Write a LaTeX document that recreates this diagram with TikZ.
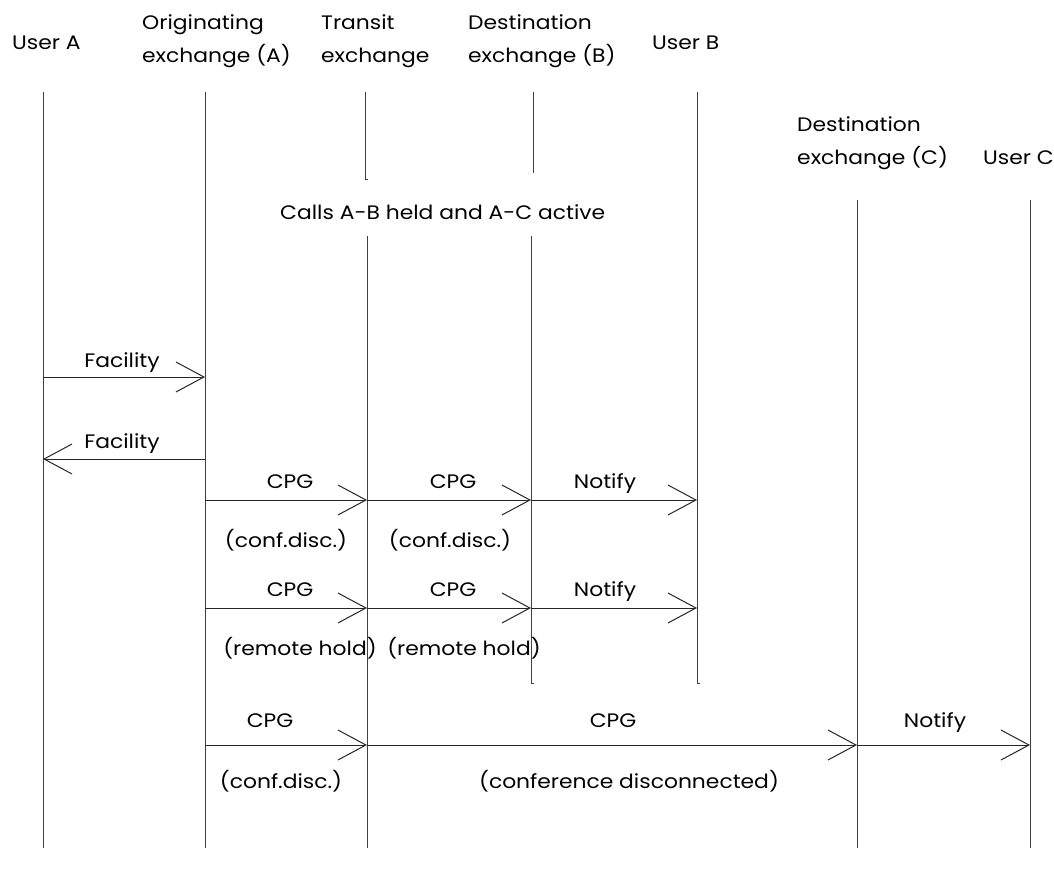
\documentclass[tikz,border=0pt]{standalone}
\usepackage{fontspec}
\setmainfont{Poppins}[FakeStretch=1.12]
\usetikzlibrary{arrows.meta}
\begin{document}
\begin{tikzpicture}[x=1pt,y=-1pt,
  lbl/.style={inner sep=0pt,anchor=base,font=\fontsize{19.5}{22}\selectfont},
  hdr/.style={lbl,anchor=base west},
  life/.style={draw=black!75,line width=0.9pt},
  msg/.style={draw=black!85,line width=1pt,-{Straight Barb[length=28pt,width=30pt,line width=1pt]}}]
\useasboundingbox (0,0) rectangle (1054,874);
% headers
\node[hdr] (hA) at (12,50) {User A};
\node[hdr] (hOA1) at (142,30) {Originating};
\node[hdr] (hOA2) at (142,63) {exchange (A)};
\node[hdr] (hT1) at (321,30) {Transit};
\node[hdr] (hT2) at (321,63) {exchange};
\node[hdr] (hDB1) at (468,30) {Destination};
\node[hdr] (hDB2) at (468,63) {exchange (B)};
\node[hdr] (hUB) at (652,50) {User B};
\node[hdr] (hDC1) at (797,132) {Destination};
\node[hdr] (hDC2) at (797,165) {exchange (C)};
\node[hdr] (hUC) at (983,165) {User C};
\node[hdr] (calls) at (280,220) {Calls A-B held and A-C active};
% lifelines
\coordinate (A0) at (43,92);   \coordinate (A1) at (43,848);
\coordinate (O0) at (205,92);  \coordinate (O1) at (205,848);
\coordinate (T0) at (365,92);  \coordinate (Tm) at (365,179); \coordinate (Tn) at (368,179);
\coordinate (T2) at (367,236); \coordinate (T3) at (367,848);
\coordinate (B0) at (533,92);  \coordinate (Bm) at (533,173);
\coordinate (B2) at (531,236); \coordinate (B3) at (531,683); \coordinate (B4) at (534,683);
\coordinate (U0) at (697,92);  \coordinate (U1) at (697,683); \coordinate (U2) at (700,683);
\coordinate (C0) at (857,200); \coordinate (C1) at (857,848);
\coordinate (D0) at (1030,200);\coordinate (D1) at (1030,848);
\draw[life] (A0) -- (A1);
\draw[life] (O0) -- (O1);
\draw[life] (T0) -- (Tm) -- (Tn);
\draw[life] (T2) -- (T3);
\draw[life] (B0) -- (Bm);
\draw[life] (B2) -- (B3) -- (B4);
\draw[life] (U0) -- (U1) -- (U2);
\draw[life] (C0) -- (C1);
\draw[life] (D0) -- (D1);
% message anchor points
\foreach \n/\x in {a/43,o/205,t/367,b/531,u/697,c/857,d/1030}{
  \coordinate (\n f1) at (\x,377);
  \coordinate (\n f2) at (\x,459);
  \coordinate (\n r1) at (\x,500);
  \coordinate (\n r2) at (\x,608);
  \coordinate (\n r3) at (\x,745);
}
% Facility
\draw[msg] (af1) -- (of1);
\node[lbl] (lf1) at (122,367) {Facility};
\draw[msg] (of2) -- (af2);
\node[lbl] (lf2) at (122,448) {Facility};
% row 1
\draw[msg] (or1) -- (tr1);
\draw[msg] (tr1) -- (br1);
\draw[msg] (br1) -- (ur1);
\node[lbl] (l11) at (290,488) {CPG};
\node[lbl] (l12) at (453,488) {CPG};
\node[lbl] (l13) at (605,488) {Notify};
\node[lbl] (p11) at (286,547) {(conf.disc.)};
\node[lbl] (p12) at (450,547) {(conf.disc.)};
% row 2
\draw[msg] (or2) -- (tr2);
\draw[msg] (tr2) -- (br2);
\draw[msg] (br2) -- (ur2);
\node[lbl] (l21) at (290,596) {CPG};
\node[lbl] (l22) at (453,596) {CPG};
\node[lbl] (l23) at (605,596) {Notify};
\node[lbl] (p21) at (300,655) {(remote hold)};
\node[lbl] (p22) at (464,655) {(remote hold)};
% row 3
\draw[msg] (or3) -- (tr3);
\draw[msg] (tr3) -- (cr3);
\draw[msg] (cr3) -- (dr3);
\node[lbl] (l31) at (270,727) {CPG};
\node[lbl] (l32) at (613,727) {CPG};
\node[lbl] (l33) at (935,727) {Notify};
\node[lbl] (p31) at (281,788) {(conf.disc.)};
\node[lbl] (p32) at (629,788) {(conference disconnected)};
\end{tikzpicture}
\end{document}
